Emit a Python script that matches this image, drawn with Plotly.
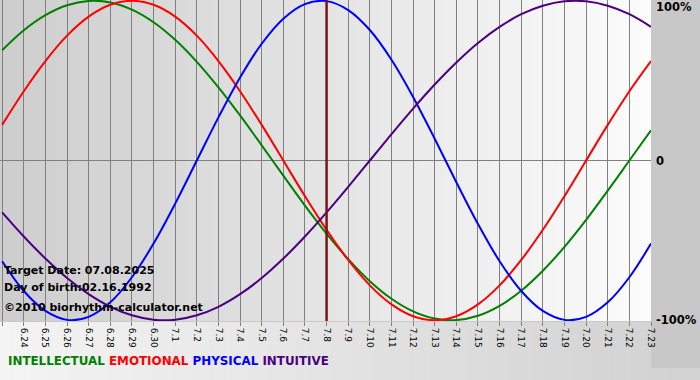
import plotly.graph_objects as go

dates = ["6.23", "6.24", "6.25", "6.26", "6.27", "6.28", "6.29", "6.30",
         "7.1", "7.2", "7.3", "7.4", "7.5", "7.6", "7.7", "7.8", "7.9", "7.10",
         "7.11", "7.12", "7.13", "7.14", "7.15", "7.16", "7.17", "7.18", "7.19",
         "7.20", "7.21", "7.22", "7.23"]

intellectual = [0.690, 0.815, 0.910, 0.972, 0.999, 0.990, 0.945, 0.866, 0.756, 0.618, 0.458,
                0.282, 0.095, -0.095, -0.282, -0.458, -0.618, -0.756, -0.866, -0.945, -0.990,
                -0.999, -0.972, -0.910, -0.815, -0.690, -0.541, -0.372, -0.189, 0.000, 0.189]
emotional = [0.223, 0.434, 0.623, 0.782, 0.901, 0.975, 1.000, 0.975, 0.901, 0.782, 0.623,
             0.434, 0.223, 0.000, -0.223, -0.434, -0.623, -0.782, -0.901, -0.975, -1.000,
             -0.975, -0.901, -0.782, -0.623, -0.434, -0.223, 0.000, 0.223, 0.434, 0.623]
physical = [-0.631, -0.817, -0.942, -0.998, -0.979, -0.888, -0.731, -0.520, -0.270, 0.000, 0.270,
            0.520, 0.731, 0.888, 0.979, 0.998, 0.942, 0.817, 0.631, 0.398, 0.136, -0.136,
            -0.398, -0.631, -0.817, -0.942, -0.998, -0.979, -0.888, -0.731, -0.520]
intuitive = [-0.325, -0.476, -0.614, -0.736, -0.837, -0.916, -0.969, -0.997, -0.997, -0.969, -0.916,
             -0.837, -0.736, -0.614, -0.476, -0.325, -0.165, 0.000, 0.165, 0.325, 0.476,
             0.614, 0.736, 0.837, 0.916, 0.969, 0.997, 0.997, 0.969, 0.916, 0.837]

series_names = ["INTELLECTUAL", "EMOTIONAL", "PHYSICAL", "INTUITIVE"]
series_colors = ["#008000", "#ff0000", "#0000ff", "#4b0082"]
target_index = 15

x = list(range(len(dates)))

fig = go.Figure()
for name, vals, col in zip(series_names, [intellectual, emotional, physical, intuitive], series_colors):
    fig.add_trace(go.Scatter(x=x, y=vals, mode="lines", name=name,
                             line=dict(color=col, width=2, shape="spline", smoothing=1.0),
                             showlegend=False, hoverinfo="skip"))

W, H = 700, 380
L, R, T, B = 0, 49, 0, 59
pw = W - L - R
ph = H - T - B

shapes = []
n = 70
# plot area gradient (gray left -> white right)
for i in range(n):
    c = int(206 + (252 - 206) * i / (n - 1))
    shapes.append(dict(type="rect", xref="paper", yref="paper",
                       x0=i / n, x1=(i + 1) / n + 0.002, y0=0, y1=1,
                       fillcolor=f"rgb({c},{c},{c})", line=dict(width=0), layer="below"))
# bottom strip gradient (light left -> gray right)
for i in range(n):
    c = int(244 - (244 - 210) * i / (n - 1))
    shapes.append(dict(type="rect", xref="paper", yref="paper",
                       x0=i / n * (W / pw), x1=(i + 1) / n * (W / pw) + 0.002,
                       y0=-(H - ph) / ph, y1=-1 / ph,
                       fillcolor=f"rgb({c},{c},{c})", line=dict(width=0), layer="below"))
# right gray column
shapes.append(dict(type="rect", xref="paper", yref="paper", x0=1, x1=W / pw,
                   y0=-(368 - ph) / ph, y1=1, fillcolor="rgb(200,200,200)",
                   line=dict(width=0), layer="below"))
# target line
shapes.append(dict(type="line", xref="x", yref="paper", x0=target_index, x1=target_index,
                   y0=0, y1=1, line=dict(color="#7a1515", width=2.5)))

legend_html = " ".join(f"<span style='color:{c}'>{nme}</span>" for nme, c in zip(series_names, series_colors))

annotations = []
for txt, py in [("Target Date: 07.08.2025", 270), ("Day of birth:02.16.1992", 287),
                ("©2010 biorhythm-calculator.net", 307)]:
    annotations.append(dict(text=f"<b>{txt}</b>", x=0, y=1 - (py + 0.5) / ph,
                            xref="paper", yref="paper", showarrow=False,
                            xanchor="left", yanchor="middle", xshift=2,
                            font=dict(family="DejaVu Sans", size=11, color="black")))

for txt, yv, ys in [("100%", 1.0, -6), ("0", 0.0, 0), ("-100%", -1.0, 0)]:
    annotations.append(dict(text=f"<b>{txt}</b>", x=1, y=yv, xref="paper", yref="y",
                            xanchor="left", yanchor="middle", xshift=3, yshift=ys,
                            showarrow=False, font=dict(family="DejaVu Sans", size=11.5, color="black")))

annotations.append(dict(text=f"<b>{legend_html}</b>", x=0, y=-(361 - ph) / ph, xref="paper", yref="paper",
                        xanchor="left", yanchor="middle", xshift=6, showarrow=False,
                        font=dict(family="DejaVu Sans", size=11.9)))

fig.update_layout(
    width=W, height=H,
    margin=dict(l=L, r=R, t=T, b=B, autoexpand=False),
    paper_bgcolor="rgb(200,200,200)",
    plot_bgcolor="rgba(0,0,0,0)",
    shapes=shapes,
    annotations=annotations,
    xaxis=dict(range=[-0.1, 30], tickmode="array", tickvals=x, ticktext=dates,
               tickangle=90, showgrid=True, gridcolor="rgb(128,128,128)", gridwidth=1,
               ticks="outside", ticklen=4, tickcolor="rgb(128,128,128)",
               tickfont=dict(family="DejaVu Sans", size=9, color="black"),
               zeroline=False, showline=False, fixedrange=True, automargin=False),
    yaxis=dict(range=[-1.005, 1.005], showticklabels=False, showgrid=False,
               zeroline=True, zerolinecolor="rgb(128,128,128)", zerolinewidth=1,
               fixedrange=True, automargin=False),
    showlegend=False,
)

fig.write_html("out.html", config={"displayModeBar": False},
               post_script="document.body.style.margin='0';document.body.style.padding='0';")
